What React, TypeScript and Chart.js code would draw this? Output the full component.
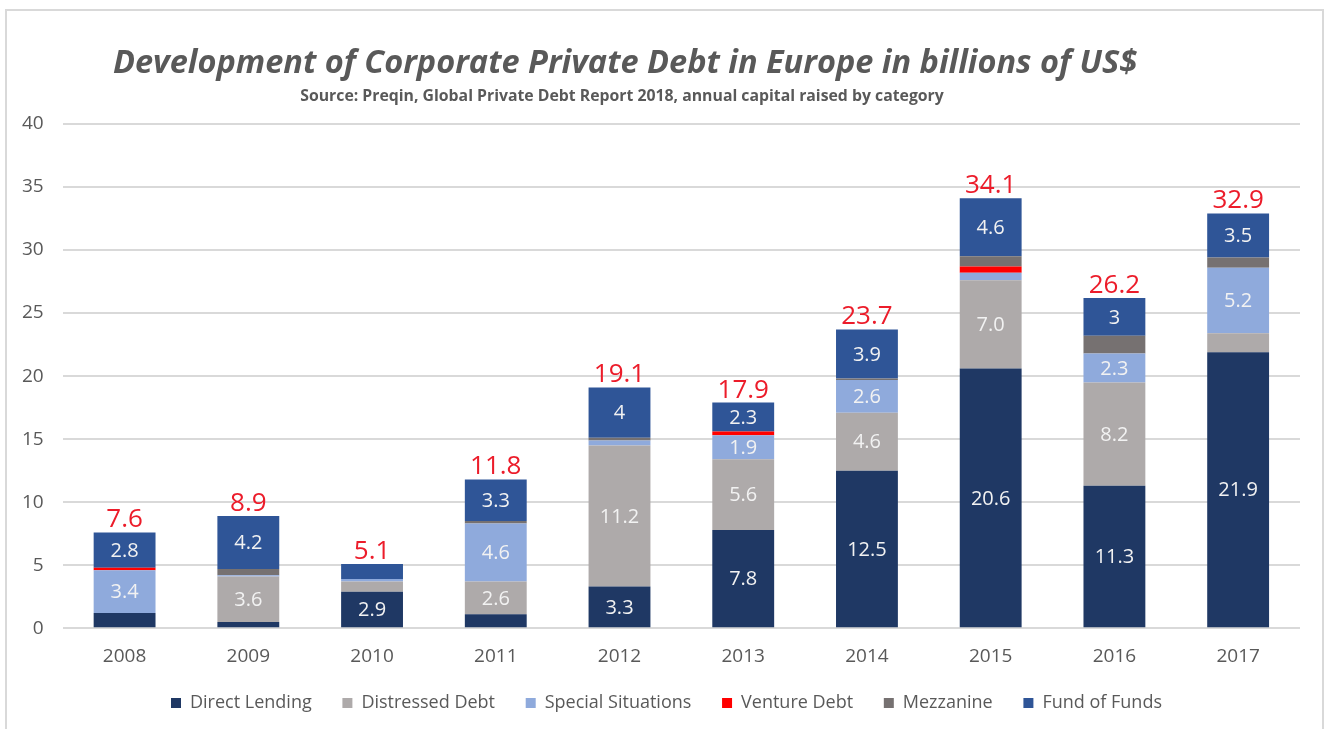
import React, { useEffect, useRef } from "react";
import { Chart, registerables } from "chart.js";

Chart.register(...registerables);

const years = ["2008", "2009", "2010", "2011", "2012", "2013", "2014", "2015", "2016", "2017"];
const directLending = [1.2, 0.5, 2.9, 1.1, 3.3, 7.8, 12.5, 20.6, 11.3, 21.9];
const distressedDebt = [0, 3.6, 0.8, 2.6, 11.2, 5.6, 4.6, 7.0, 8.2, 1.5];
const specialSituations = [3.4, 0.1, 0.2, 4.6, 0.4, 1.9, 2.6, 0.6, 2.3, 5.2];
const ventureDebt = [0.2, 0, 0, 0, 0, 0.3, 0, 0.5, 0, 0];
const mezzanine = [0, 0.5, 0, 0.2, 0.2, 0, 0.1, 0.8, 1.4, 0.8];
const fundOfFunds = [2.8, 4.2, 1.2, 3.3, 4, 2.3, 3.9, 4.6, 3, 3.5];

const directLendingLabels = [null, null, "2.9", null, "3.3", "7.8", "12.5", "20.6", "11.3", "21.9"];
const distressedDebtLabels = [null, "3.6", null, "2.6", "11.2", "5.6", "4.6", "7.0", "8.2", null];
const specialSituationsLabels = ["3.4", null, null, "4.6", null, "1.9", "2.6", null, "2.3", "5.2"];
const fundOfFundsLabels = ["2.8", "4.2", null, "3.3", "4", "2.3", "3.9", "4.6", "3", "3.5"];

const yTicks = [0, 5, 10, 15, 20, 25, 30, 35, 40];

const TITLE = "Development of Corporate Private Debt in Europe in billions of US$";
const SUBTITLE = "Source: Preqin, Global Private Debt Report 2018, annual capital raised by category";

const FONT = "'Open Sans', Lato, sans-serif";
const LEGEND_GAP = "    \u2009";
const LEGEND_SHIFT = 15;

export default function App() {
  const ref = useRef<HTMLCanvasElement | null>(null);

  useEffect(() => {
    const canvas = ref.current;
    if (!canvas) return;

    const segLabels: (string | null)[][] = [
      directLendingLabels,
      distressedDebtLabels,
      specialSituationsLabels,
      [],
      [],
      fundOfFundsLabels,
    ];

    const labelPlugin = {
      id: "labels",
      afterDatasetsDraw(chart: any) {
        const ctx = chart.ctx;
        ctx.save();
        ctx.font = `20px ${FONT}`;
        ctx.fillStyle = "#F2F2F2";
        ctx.textAlign = "center";
        ctx.textBaseline = "middle";
        chart.data.datasets.forEach((ds: any, di: number) => {
          const meta = chart.getDatasetMeta(di);
          const labs = segLabels[di] || [];
          meta.data.forEach((bar: any, i: number) => {
            const l = labs[i];
            if (!l) return;
            const yc = (bar.y + bar.base) / 2;
            ctx.fillText(l, bar.x, yc + 1);
          });
        });
        const n = years.length;
        const lastMeta = chart.getDatasetMeta(chart.data.datasets.length - 1);
        ctx.font = `26px ${FONT}`;
        ctx.fillStyle = "#EC1C2A";
        ctx.textBaseline = "alphabetic";
        for (let i = 0; i < n; i++) {
          let total = 0;
          chart.data.datasets.forEach((ds: any) => (total += ds.data[i]));
          const yTop = chart.scales.y.getPixelForValue(total);
          const x = lastMeta.data[i].x;
          ctx.fillText(total.toFixed(1), x, yTop - 5);
        }
        ctx.restore();
      },
    };

    const legendShiftPlugin = {
      id: "legendShift",
      afterLayout(chart: any) {
        if (chart.legend) {
          chart.legend.left += LEGEND_SHIFT;
          chart.legend.right += LEGEND_SHIFT;
        }
      },
    };

    const titlePlugin = {
      id: "customTitle",
      afterDraw(chart: any) {
        const ctx = chart.ctx;
        ctx.save();
        ctx.textAlign = "center";
        ctx.textBaseline = "alphabetic";
        ctx.fillStyle = "#595959";
        ctx.font = `italic bold 32.5px ${FONT}`;
        ctx.fillText(TITLE, 625, 73);
        ctx.font = `bold 15.8px ${FONT}`;
        ctx.fillText(SUBTITLE, 622, 101);
        ctx.strokeStyle = "#D9D9D9";
        ctx.lineWidth = 2;
        ctx.beginPath();
        ctx.moveTo(6, chart.height);
        ctx.lineTo(6, 10);
        ctx.lineTo(1323, 10);
        ctx.lineTo(1323, chart.height);
        ctx.stroke();
        ctx.restore();
      },
    };

    const chart = new Chart(canvas, {
      type: "bar",
      data: {
        labels: years,
        datasets: [
          { label: "Direct Lending", data: directLending, backgroundColor: "#1F3864" },
          { label: "Distressed Debt", data: distressedDebt, backgroundColor: "#AEAAAA" },
          { label: "Special Situations", data: specialSituations, backgroundColor: "#8FAADC" },
          { label: "Venture Debt", data: ventureDebt, backgroundColor: "#FF0000" },
          { label: "Mezzanine", data: mezzanine, backgroundColor: "#767171" },
          { label: "Fund of Funds", data: fundOfFunds, backgroundColor: "#2F5597" },
        ],
      },
      options: {
        animation: false,
        responsive: false,
        maintainAspectRatio: false,
        datasets: {
          bar: { barPercentage: 0.5, categoryPercentage: 1.0, borderWidth: 0 },
        },
        layout: { padding: { top: 124, left: 3, right: 25, bottom: 7 } },
        scales: {
          x: {
            stacked: true,
            grid: { display: false, drawTicks: false },
            border: { display: false },
            ticks: { color: "#595959", font: { family: FONT, size: 19 }, padding: 17 },
          },
          y: {
            stacked: true,
            min: 0,
            max: 40,
            afterBuildTicks: (axis: any) => {
              axis.ticks = yTicks.map((v) => ({ value: v }));
            },
            grid: { color: "#D9D9D9", lineWidth: 2, drawTicks: false },
            border: { display: false },
            ticks: { color: "#595959", font: { family: FONT, size: 19 }, padding: 19 },
          },
        },
        plugins: {
          title: { display: false },
          tooltip: { enabled: false },
          legend: {
            position: "bottom",
            labels: {
              color: "#595959",
              font: { family: FONT, size: 18 },
              boxWidth: 10,
              boxHeight: 10,
              padding: 9,
              generateLabels: (ch: any) => {
                const items = Chart.defaults.plugins.legend.labels.generateLabels(ch);
                return items.map((it: any, i: number) => ({
                  ...it,
                  text: i < items.length - 1 ? it.text + LEGEND_GAP : it.text,
                }));
              },
            },
          },
        },
      },
      plugins: [labelPlugin, legendShiftPlugin, titlePlugin],
    });

    return () => chart.destroy();
  }, []);

  return (
    <div style={{ position: "fixed", left: 0, top: 0, width: 1325, height: 729, background: "#fff" }}>
      <canvas ref={ref} width={1325} height={729} style={{ width: 1325, height: 729, display: "block" }} />
    </div>
  );
}
